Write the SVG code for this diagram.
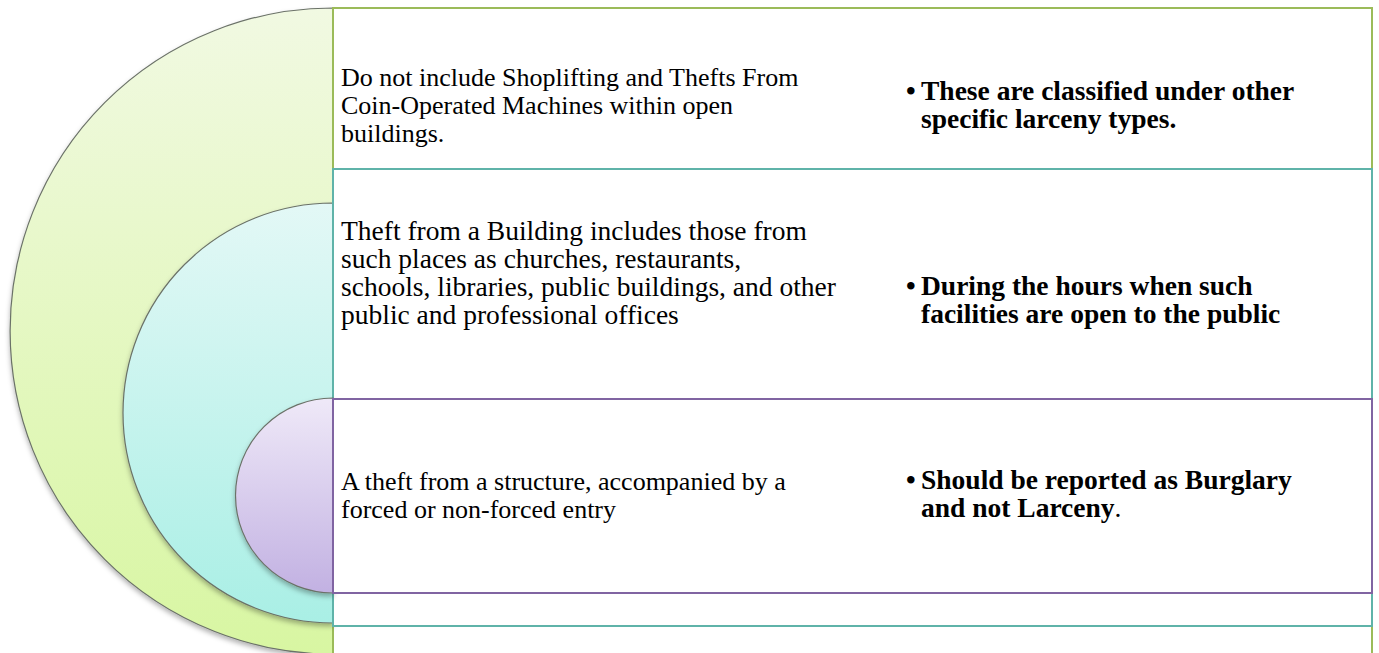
<svg xmlns="http://www.w3.org/2000/svg" width="1379" height="653" viewBox="0 0 1379 653">
<style>
  .circ { stroke: #6b7268; stroke-width: 1.2; filter: url(#sh); }
  .box { fill: #ffffff; stroke-width: 2; }
  .lt { font-family: "Liberation Serif", "Times New Roman", serif; fill: #000; }
  .rt { font-family: "Liberation Serif", "Times New Roman", serif; font-weight: bold; font-size: 27.5px; fill: #000; }
</style>
<defs>
  <linearGradient id="gG" x1="0" y1="0" x2="0" y2="1">
    <stop offset="0" stop-color="#f1f9e2"/>
    <stop offset="1" stop-color="#d8f6a2"/>
  </linearGradient>
  <linearGradient id="gT" x1="0" y1="0" x2="0" y2="1">
    <stop offset="0" stop-color="#e3f8f6"/>
    <stop offset="1" stop-color="#a9efe5"/>
  </linearGradient>
  <linearGradient id="gP" x1="0" y1="0" x2="0" y2="1">
    <stop offset="0" stop-color="#efe9f8"/>
    <stop offset="1" stop-color="#c2b1e2"/>
  </linearGradient>
  <filter id="sh" x="-10%" y="-10%" width="120%" height="125%">
    <feDropShadow dx="0" dy="3" stdDeviation="2.5" flood-color="#000" flood-opacity="0.3"/>
  </filter>
</defs>

<g id="outer">
  <path class="circ" fill="url(#gG)" d="M333,8 A323,323 0 0 0 333,654 Z"/>
  <rect class="box" x="333" y="8" width="1039" height="660" stroke="#9bbb59"/>
  <text class="lt" font-size="26">
    <tspan x="341" y="86">Do not include Shoplifting and Thefts From</tspan>
    <tspan x="341" y="114">Coin-Operated Machines within open</tspan>
    <tspan x="341" y="142">buildings.</tspan>
  </text>
  <text class="rt"><tspan x="906" y="100">•</tspan><tspan x="921" y="100">These are classified under other</tspan><tspan x="921" y="128">specific larceny types.</tspan></text>
</g>

<g id="middle">
  <path class="circ" fill="url(#gT)" d="M333,203 A210,210 0 0 0 333,623 Z"/>
  <rect class="box" x="333" y="169" width="1039" height="457" stroke="#5fb3a9"/>
  <text class="lt" font-size="27.5">
    <tspan x="341" y="240">Theft from a Building includes those from</tspan>
    <tspan x="341" y="268">such places as churches, restaurants,</tspan>
    <tspan x="341" y="296">schools, libraries, public buildings, and other</tspan>
    <tspan x="341" y="324">public and professional offices</tspan>
  </text>
  <text class="rt"><tspan x="906" y="295">•</tspan><tspan x="921" y="295">During the hours when such</tspan><tspan x="921" y="323">facilities are open to the public</tspan></text>
</g>

<g id="inner">
  <path class="circ" fill="url(#gP)" d="M333,398 A97.5,97.5 0 0 0 333,593 Z"/>
  <rect class="box" x="333" y="399" width="1039" height="194" stroke="#8064a2"/>
  <text class="lt" font-size="26">
    <tspan x="341" y="490">A theft from a structure, accompanied by a</tspan>
    <tspan x="341" y="518">forced or non-forced entry</tspan>
  </text>
  <text class="rt"><tspan x="906" y="489">•</tspan><tspan x="921" y="489">Should be reported as Burglary</tspan><tspan x="921" y="517">and not Larceny</tspan><tspan font-weight="normal">.</tspan></text>
</g>

<g id="connectors"></g>
</svg>
